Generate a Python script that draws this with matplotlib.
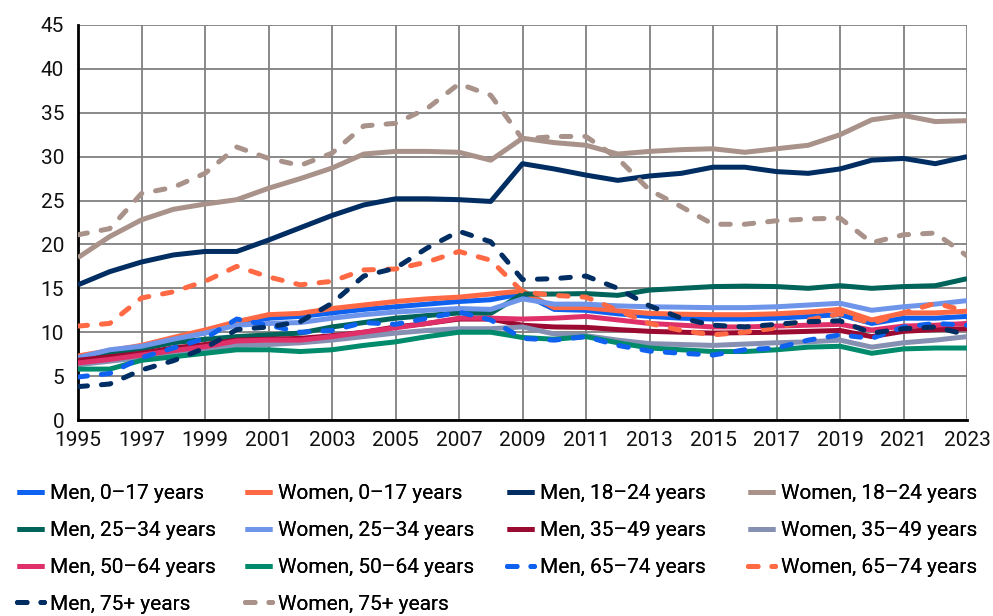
import matplotlib
matplotlib.use("Agg")
import matplotlib.pyplot as plt
import numpy as np

years = list(range(1995, 2024))

men_0_17 = [7.0, 7.6, 8.2, 9.1, 10.0, 11.0, 11.6, 11.8, 12.2, 12.6, 12.9, 13.2, 13.5, 13.7, 14.4,
            12.6, 12.5, 12.1, 11.8, 11.6, 11.5, 11.5, 11.6, 11.8, 12.0, 11.0, 11.6, 11.6, 11.8]
women_0_17 = [7.3, 7.9, 8.5, 9.4, 10.25, 11.2, 12.0, 12.15, 12.7, 13.1, 13.5, 13.8, 14.0, 14.35, 14.7,
              12.8, 12.8, 12.45, 12.15, 12.05, 12.0, 12.0, 12.1, 12.3, 12.6, 11.4, 12.2, 12.2, 12.4]
men_18_24 = [15.4, 16.9, 18.0, 18.8, 19.2, 19.2, 20.5, 21.9, 23.3, 24.5, 25.2, 25.2, 25.1, 24.9, 29.2,
             28.6, 27.9, 27.3, 27.8, 28.1, 28.8, 28.8, 28.3, 28.1, 28.6, 29.6, 29.8, 29.2, 30.0]
women_18_24 = [18.5, 20.9, 22.8, 24.0, 24.6, 25.1, 26.4, 27.5, 28.7, 30.3, 30.6, 30.6, 30.5, 29.6, 32.1,
               31.6, 31.3, 30.3, 30.6, 30.8, 30.9, 30.5, 30.9, 31.3, 32.5, 34.2, 34.7, 34.0, 34.1]
men_25_34 = [7.1, 7.6, 8.1, 8.8, 9.2, 9.5, 9.7, 9.9, 10.6, 11.1, 11.6, 11.9, 12.2, 12.15, 14.35,
             14.35, 14.4, 14.2, 14.8, 15.0, 15.2, 15.25, 15.2, 15.0, 15.3, 15.0, 15.2, 15.3, 16.1]
women_25_34 = [7.1, 8.0, 8.4, 9.2, 9.9, 10.8, 11.0, 11.1, 11.6, 12.0, 12.3, 12.5, 12.7, 12.6, 13.8,
               13.2, 13.2, 13.0, 12.9, 12.85, 12.8, 12.8, 12.9, 13.1, 13.3, 12.5, 12.9, 13.2, 13.6]
men_35_49 = [6.8, 7.2, 7.6, 8.2, 8.6, 9.1, 9.2, 9.3, 9.6, 10.0, 10.6, 11.0, 11.5, 11.5, 10.8,
             10.6, 10.55, 10.3, 10.1, 10.0, 9.9, 9.95, 10.0, 10.1, 10.2, 9.5, 10.1, 10.3, 10.4]
women_35_49 = [6.3, 6.7, 7.1, 7.6, 8.0, 8.5, 8.6, 8.8, 9.1, 9.5, 9.9, 10.2, 10.4, 10.4, 10.6,
               9.8, 9.6, 9.1, 8.7, 8.6, 8.5, 8.65, 8.8, 8.9, 9.1, 8.3, 8.8, 9.1, 9.5]
men_50_64 = [6.5, 6.9, 7.4, 7.9, 8.35, 9.0, 9.1, 9.1, 9.5, 10.0, 10.5, 11.0, 11.6, 11.6, 11.5,
             11.6, 11.8, 11.4, 11.0, 10.8, 10.6, 10.6, 10.7, 10.8, 10.9, 10.25, 10.7, 10.8, 11.0]
women_50_64 = [5.8, 5.8, 6.8, 7.2, 7.6, 8.0, 8.0, 7.8, 8.0, 8.5, 8.9, 9.5, 10.0, 10.0, 9.4,
               9.2, 9.5, 8.8, 8.2, 8.0, 7.8, 7.8, 8.0, 8.3, 8.4, 7.6, 8.1, 8.2, 8.2]
men_65_74 = [4.9, 5.3, 7.1, 8.2, 9.3, 11.5, 10.8, 10.0, 10.2, 11.1, 10.9, 11.6, 12.3, 11.4, 9.3,
             9.1, 9.5, 8.5, 7.85, 7.6, 7.4, 8.0, 8.2, 9.1, 9.7, 9.3, 10.6, 11.0, 10.8]
women_65_74 = [10.7, 11.0, 13.9, 14.6, 15.8, 17.5, 16.3, 15.4, 15.8, 17.1, 17.2, 18.0, 19.2, 18.2, 14.6,
               14.2, 14.0, 12.5, 11.0, 10.2, 9.7, 10.0, 10.5, 11.4, 12.1, 11.0, 12.2, 13.3, 12.4]
men_75 = [3.8, 4.1, 5.7, 6.75, 8.2, 10.3, 10.6, 11.2, 13.3, 16.4, 17.3, 19.6, 21.5, 20.3, 16.0,
          16.1, 16.4, 15.0, 13.0, 11.6, 10.8, 10.6, 10.9, 11.2, 11.3, 9.9, 10.4, 10.6, 9.7]
women_75 = [21.1, 21.8, 25.8, 26.5, 28.1, 31.1, 29.8, 29.0, 30.4, 33.5, 33.8, 35.5, 38.3, 37.0, 32.0,
            32.3, 32.3, 29.8, 26.2, 24.3, 22.3, 22.3, 22.7, 22.9, 23.0, 20.2, 21.1, 21.3, 18.7]

labels = ["Men, 0\u201317 years", "Women, 0\u201317 years", "Men, 18\u201324 years", "Women, 18\u201324 years",
          "Men, 25\u201334 years", "Women, 25\u201334 years", "Men, 35\u201349 years", "Women, 35\u201349 years",
          "Men, 50\u201364 years", "Women, 50\u201364 years", "Men, 65\u201374 years", "Women, 65\u201374 years",
          "Men, 75+ years", "Women, 75+ years"]
series = [men_0_17, women_0_17, men_18_24, women_18_24, men_25_34, women_25_34, men_35_49, women_35_49,
          men_50_64, women_50_64, men_65_74, women_65_74, men_75, women_75]
colors = ["#0F62F0", "#FF6A45", "#002D62", "#A8928A", "#00645A", "#6E95EA", "#9B0A30", "#8690B2",
          "#E0306A", "#008C6C", "#0F62F0", "#FF6A45", "#002D62", "#A8928A"]
dashed = [False] * 10 + [True] * 4

xticks = list(range(1995, 2024, 2))
yticks = list(range(0, 46, 5))

plt.rcParams['font.family'] = ['Roboto', 'DejaVu Sans']

fig = plt.figure(figsize=(9.93, 6.16), dpi=100)
ax = fig.add_axes([78/993, 1 - 420/616, (967 - 78)/993, (420 - 25)/616])

handles = []
for s, lab, c, d in zip(series, labels, colors, dashed):
    if d:
        h, = ax.plot(years, s, color=c, lw=3.6, label=lab, dashes=(1.9, 2.8),
                     dash_capstyle='round', solid_joinstyle='round', zorder=3)
    else:
        h, = ax.plot(years, s, color=c, lw=3.6, label=lab, solid_capstyle='butt',
                     solid_joinstyle='round', zorder=3)
    handles.append(h)

ax.set_xlim(1995, 2023)
ax.set_ylim(0, 45)
ax.set_xticks(xticks)
ax.set_yticks(yticks)
ax.tick_params(axis='both', length=0, labelsize=15, colors='#111111')
ax.tick_params(axis='x', pad=8)
ax.tick_params(axis='y', pad=10)
ax.grid(True, color='#808080', lw=1.3, zorder=0)
ax.set_axisbelow(True)
for sp in ['top', 'right']:
    ax.spines[sp].set_visible(False)
ax.spines['left'].set_linewidth(2)
ax.spines['bottom'].set_linewidth(2)
ax.spines['left'].set_color('black')
ax.spines['bottom'].set_color('black')

# legend: four columns, laid out row-wise like the reference
col_x = [17, 245, 507, 748]
top_y = 484
for col in range(4):
    idx = list(range(col, len(labels), 4))
    lg = fig.legend([handles[i] for i in idx], [labels[i] for i in idx],
                    ncol=1, loc='upper left', bbox_to_anchor=(col_x[col] / 993, 1 - top_y / 616),
                    frameon=False, fontsize=15, handlelength=1.3, handletextpad=0.3,
                    labelspacing=0.86, borderaxespad=0, borderpad=0)
    fig.add_artist(lg)

fig.savefig("out.png", dpi=100)
